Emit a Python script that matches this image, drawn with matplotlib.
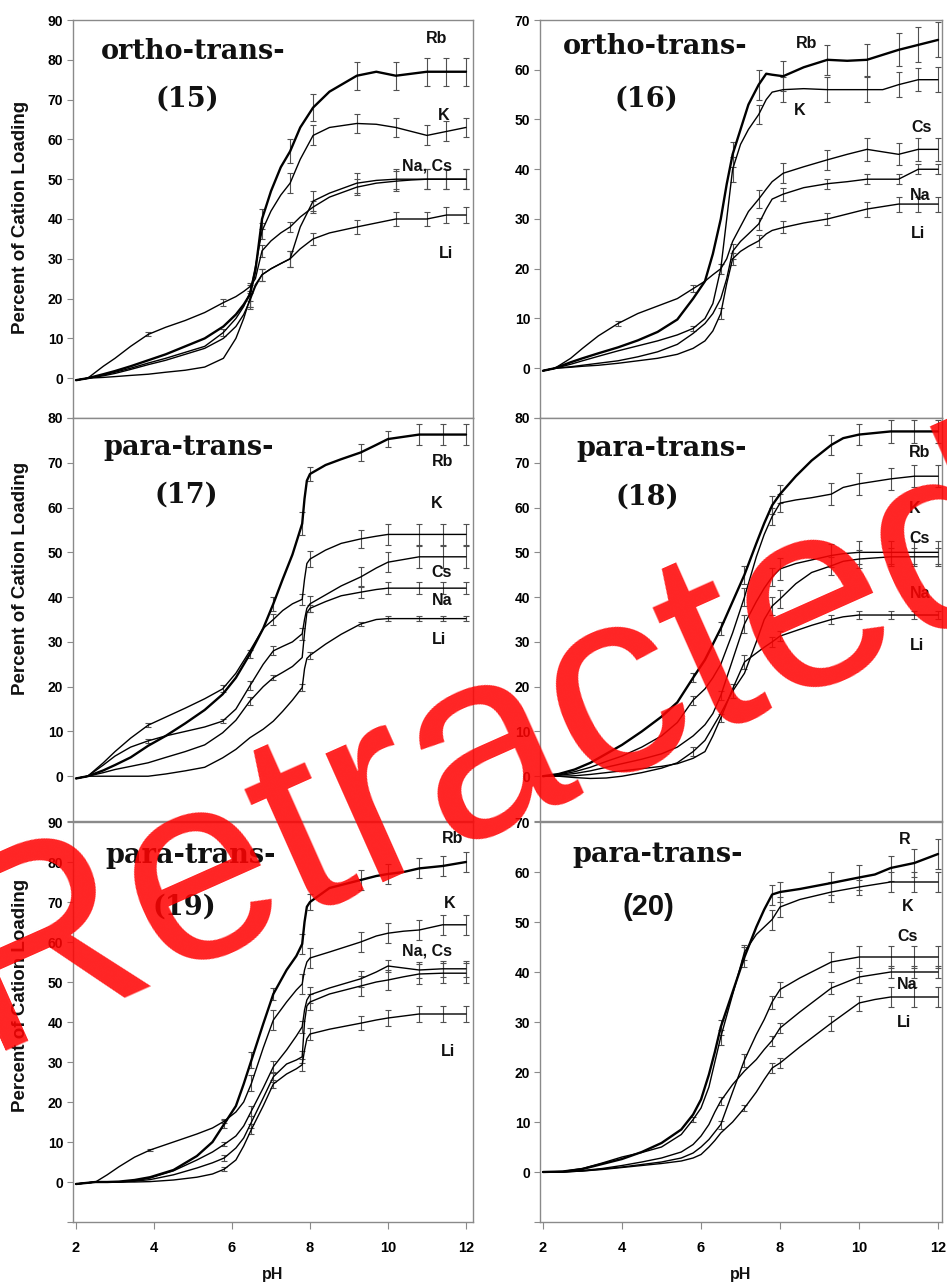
import numpy as np
import matplotlib
matplotlib.use('Agg')
import matplotlib.pyplot as plt

plt.rcParams['font.family'] = ['Liberation Sans', 'DejaVu Sans']

# ---------------- data: panel (15) ortho-trans ----------------
PH15 = [2.0, 2.3, 2.7, 3.0, 3.4, 3.85, 4.3, 4.8, 5.3, 5.78, 6.1, 6.3, 6.46, 6.6, 6.77, 7.0, 7.25, 7.49, 7.75, 8.08, 8.5, 9.2, 9.7, 10.2, 10.6, 11.0, 11.5, 12.0]
P15_RB = [-0.5, 0, 1, 1.8, 3, 4.5, 6, 8, 10, 13, 16, 18.5, 21, 27, 40, 47, 53, 57, 63, 68, 72, 76, 77, 76, 76.5, 77, 77, 77]
P15_K = [-0.5, 0, 0.8, 1.5, 2.5, 3.8, 5, 6.5, 8, 11.5, 15, 18, 21.5, 28, 37, 42, 46, 49, 55, 61, 63, 64, 63.8, 63, 62, 61, 62, 63]
P15_NA = [-0.5, 0, 3, 5, 8, 11, 12.8, 14.5, 16.5, 19, 20.5, 21.8, 23, 25, 32, 34.5, 36.5, 38, 40.5, 43, 45.5, 48, 49, 49.5, 49.8, 50, 50, 50]
P15_CS = [-0.5, 0, 0.6, 1.2, 2.2, 3.4, 4.5, 6, 7.5, 10, 13, 16, 19.5, 23, 26, 27.5, 28.8, 30, 38, 44.5, 46.5, 49, 49.7, 50, 50, 50, 50, 50]
P15_LI = [-0.5, 0, 0.2, 0.4, 0.7, 1, 1.5, 2, 2.8, 5, 10, 15, 20, 23.5, 26, 27.5, 28.8, 30, 32.5, 35, 36.5, 38, 39, 40, 40, 40, 41, 41]
EB15 = [3.85, 5.78, 6.46, 6.77, 7.49, 8.08, 9.2, 10.2, 11.0, 11.5, 12.0]
E15_RB = [0, 0, 3, 2.5, 3, 3.5, 3.5, 3.5, 3.5, 3.5, 3.5]
E15_K = [0, 0.8, 2, 2, 2.5, 2.5, 2.5, 2.5, 2.5, 2.5, 2.5]
E15_NA = [0.5, 0.8, 0, 1.5, 1.3, 1.5, 2, 2.5, 2.5, 2.5, 2.5]
E15_CS = [0, 0, 2, 1.5, 2, 2.5, 2.5, 2.5, 2.5, 2.5, 2.5]
E15_LI = [0, 0, 2, 1.5, 2, 1.5, 1.8, 1.8, 1.8, 2, 2]

# ---------------- data: panel (16) ortho-trans ----------------
PH16 = [2.0, 2.3, 2.7, 3.0, 3.4, 3.9, 4.4, 4.9, 5.4, 5.8, 6.1, 6.3, 6.5, 6.65, 6.8, 7.0, 7.2, 7.46, 7.65, 7.8, 8.08, 8.6, 9.2, 9.7, 10.2, 10.6, 11.0, 11.5, 12.0]
P16_RB = [-0.5, 0, 1.2, 2, 3, 4.2, 5.6, 7.3, 9.8, 14, 17.5, 23, 30, 37, 43, 48, 53, 57, 59.2, 59, 58.7, 60.5, 62, 61.8, 62, 63, 64, 65, 66]
P16_K = [-0.5, 0, 0.8, 1.5, 2.4, 3.5, 4.5, 5.5, 6.7, 8, 10, 13, 20, 30, 40, 45, 48, 51, 54, 55.5, 56, 56.2, 56, 56, 56, 56, 57, 58, 58]
P16_CS = [-0.5, 0, 2, 4, 6.5, 9, 11, 12.5, 14, 16, 17.5, 18.8, 20, 22, 25.5, 28.5, 31.5, 34, 36, 37.5, 39.2, 40.5, 41.9, 43, 44, 43.5, 43, 44, 44]
P16_NA = [-0.5, 0, 0.3, 0.6, 1, 1.5, 2.3, 3.3, 4.8, 7, 9, 11, 14, 18, 23.5, 25.5, 27, 29, 32, 34, 35, 36.3, 37.1, 37.5, 38, 38, 38, 40, 40]
P16_LI = [-0.5, 0, 0.2, 0.4, 0.6, 1, 1.5, 2, 2.8, 4, 5.5, 7.5, 11, 17, 22, 23.5, 24.5, 25.6, 27, 27.7, 28.3, 29.2, 30, 31, 32, 32.5, 33, 33, 33]
EB16 = [3.9, 5.8, 6.5, 6.8, 7.46, 8.08, 9.2, 10.2, 11.0, 11.5, 12.0]
E16_RB = [0, 0, 0, 2.5, 3, 3, 3, 3.2, 3.3, 3.5, 3.5]
E16_K = [0, 0.5, 0, 2.5, 2, 2.5, 2.5, 2.5, 2.5, 2.3, 2.5]
E16_CS = [0.5, 0.7, 1, 0, 1.8, 2, 2, 2.3, 2.2, 2.3, 2.3]
E16_NA = [0, 0, 0, 1.5, 1.3, 1.3, 1, 1, 1, 1, 1]
E16_LI = [0, 0, 1.2, 1.2, 1.2, 1.2, 1.2, 1.5, 1.5, 1.5, 1.5]

# ---------------- data: panel (17) para-trans ----------------
PH17 = [2.0, 2.3, 2.7, 3.0, 3.4, 3.85, 4.3, 4.8, 5.3, 5.76, 6.1, 6.46, 6.8, 7.06, 7.3, 7.55, 7.8, 7.86, 7.92, 8.0, 8.4, 8.8, 9.3, 9.7, 10.0, 10.8, 11.4, 12.0]
P17_RB = [-0.5, 0, 1.3, 2.5, 4.2, 6.8, 9, 11.8, 14.8, 18.3, 22, 27.3, 33, 38.5, 44, 49.5, 56.4, 62, 66, 67.5, 69.5, 70.8, 72.3, 74, 75.3, 76.3, 76.3, 76.3]
P17_K = [-0.5, 0, 3, 5.5, 8.5, 11.4, 13.2, 15.2, 17.3, 19.5, 23, 28, 33, 35, 37, 38.5, 39.5, 44, 47.5, 48.5, 50.5, 52, 53, 53.6, 54, 54, 54, 54]
P17_CS = [-0.5, 0, 2.5, 4.5, 6.5, 7.9, 9, 10, 11, 12.3, 15, 20.2, 25, 28, 29, 30, 31.8, 35, 37.5, 38.5, 40.5, 42.5, 44.5, 46.5, 47.8, 49, 49, 49]
P17_NA = [-0.5, 0, 0.8, 1.5, 2.2, 3, 4.2, 5.5, 7, 9.7, 12.5, 16.8, 20, 22, 23.2, 24.5, 26.5, 32, 36.5, 37.5, 39, 40.3, 41.1, 41.7, 42, 42, 42, 42]
P17_LI = [-0.5, 0, 0, 0, 0, 0, 0.5, 1.2, 2, 4.1, 6, 8.6, 10.5, 12.3, 14.5, 17, 19.8, 24, 26.3, 27, 29.5, 31.7, 34, 35, 35.2, 35.2, 35.2, 35.2]
EB17 = [3.85, 5.76, 6.46, 7.06, 7.8, 8.0, 9.3, 10.0, 10.8, 11.4, 12.0]
E17_RB = [0, 0, 1, 1.5, 2.5, 1.5, 1.8, 1.8, 2.3, 2.3, 2.3]
E17_K = [0.5, 0.8, 0, 1.3, 1.3, 1.8, 2, 2.3, 2.3, 2.3, 2.3]
E17_CS = [0.5, 0.5, 1, 1, 1.3, 1.8, 2.3, 2.3, 2.5, 2.5, 2.5]
E17_NA = [0, 0, 0.8, 0.5, 0, 0.8, 1.3, 1.3, 1.3, 1.3, 1.3]
E17_LI = [0, 0, 0, 0, 0.8, 0.8, 0.5, 0.5, 0.5, 0.5, 0.5]

# ---------------- data: panel (18) para-trans ----------------
PH18 = [2.0, 2.4, 2.8, 3.2, 3.6, 4.0, 4.5, 5.0, 5.4, 5.8, 6.1, 6.3, 6.5, 6.8, 7.1, 7.4, 7.6, 7.8, 8.0, 8.4, 8.8, 9.3, 9.6, 10.0, 10.8, 11.4, 12.0]
P18_RB = [0, 0.5, 1.5, 3, 5, 7, 10, 13.3, 16.5, 22, 26, 29.5, 33, 39, 45, 52, 56.5, 60.5, 63, 67, 70.5, 74, 75.5, 76.3, 77, 77, 77]
P18_K = [0, 0.3, 1, 2, 3.3, 4.5, 6.5, 9, 12, 17, 19.5, 22, 25, 32, 40, 49, 54, 58, 61, 61.7, 62.2, 63, 64.5, 65.3, 66.4, 67, 67]
P18_CS = [0, 0.2, 0.6, 1.2, 2, 2.8, 3.8, 5, 6.5, 9, 11.5, 14, 18, 26, 34, 39, 42, 44.5, 46.3, 47.5, 48.3, 49.3, 49.7, 50, 50, 50, 50]
P18_NA = [0, 0, -0.3, -0.5, -0.4, 0, 0.8, 1.8, 3, 5.5, 8, 11, 14, 19, 23, 30, 35, 38, 39.6, 43, 45.5, 47, 48, 48.5, 49, 49, 49]
P18_LI = [0, 0, 0.1, 0.4, 0.8, 1.2, 1.7, 2.2, 2.8, 4, 5.5, 9, 13, 19.5, 25.5, 27.5, 28.8, 30, 31.3, 32.5, 33.7, 35, 35.6, 36, 36, 36, 36]
EB18 = [5.8, 6.5, 6.8, 7.1, 7.8, 8.0, 9.3, 10.0, 10.8, 11.4, 12.0]
E18_RB = [1, 1.5, 0, 2, 2, 2, 2.3, 2.3, 2.5, 2.5, 2.5]
E18_K = [1, 0, 0, 2, 2, 2, 2.5, 2.5, 2.5, 2.5, 2.5]
E18_CS = [0, 1, 0, 2, 2, 2.5, 2.5, 2.5, 2.5, 2.5, 2.5]
E18_NA = [1, 0, 1.5, 0, 2, 2, 2, 2, 2, 2, 2]
E18_LI = [0, 1, 0, 1.5, 1.2, 1.2, 1, 1, 1, 1, 1]

# ---------------- data: panel (19) para-trans ----------------
PH19 = [2.0, 2.5, 2.8, 3.1, 3.5, 3.9, 4.5, 5.1, 5.5, 5.8, 6.1, 6.3, 6.5, 6.8, 7.06, 7.4, 7.65, 7.8, 7.86, 7.92, 8.0, 8.5, 9.3, 9.7, 10.0, 10.4, 10.8, 11.4, 12.0]
P19_RB = [-0.5, 0, 0, 0.1, 0.5, 1.2, 3, 6.5, 10, 14.5, 19, 24.5, 30.5, 39.5, 47, 53, 56.5, 59.5, 65, 68.8, 70, 73.5, 75.5, 76.5, 77, 77.5, 78.4, 79, 80]
P19_K = [-0.5, 0, 1.8, 3.8, 6.2, 8, 10, 12, 13.5, 15.2, 17.5, 20, 24.7, 33.5, 40.5, 45, 48, 49.5, 53, 55, 56, 57.5, 60, 61.5, 62.2, 62.7, 63, 64.3, 64.3]
P19_NA = [-0.5, 0, 0, 0, 0.3, 1, 2.8, 5.5, 7.5, 9.4, 11.5, 14, 17.8, 23.5, 28.8, 33, 36.5, 38.8, 43, 45.5, 46.8, 48.5, 50.8, 52.5, 54, 53.5, 53, 53.3, 53.3]
P19_CS = [-0.5, 0, 0, 0, 0.2, 0.6, 1.8, 3.5, 4.8, 6, 8.5, 11, 15, 21, 26.3, 29.5, 30.5, 31.3, 40, 44, 45, 47, 49, 50, 50.5, 51.3, 52, 52.2, 52.2]
P19_LI = [-0.5, 0, 0, 0, 0, 0.1, 0.5, 1.2, 2, 3.2, 5.5, 9, 13.2, 19, 24.5, 27, 28.3, 29.3, 33, 35.8, 37, 38.2, 39.7, 40.5, 41, 41.5, 42, 42, 42]
EB19 = [3.9, 5.8, 6.5, 7.06, 7.8, 8.0, 9.3, 10.0, 10.8, 11.4, 12.0]
E19_RB = [0, 1, 2, 1.5, 2.5, 2, 2.5, 2.5, 2.5, 2.5, 2.5]
E19_K = [0.3, 0.5, 2, 2.5, 2.5, 2.5, 2.5, 2.5, 2.5, 2.5, 2.5]
E19_NA = [0, 0.5, 1.3, 1.5, 1.5, 2, 2, 1.5, 2, 2, 2]
E19_CS = [0, 0.8, 1.5, 1.3, 1.5, 2, 2.5, 2.5, 2.5, 2.5, 2.5]
E19_LI = [0, 0.5, 1.3, 1, 1.5, 1.5, 1.8, 2, 2, 2, 2]

# ---------------- data: panel (20) para-trans ----------------
PH20 = [2.0, 2.5, 3.0, 3.5, 4.0, 4.5, 5.0, 5.5, 5.8, 6.0, 6.2, 6.35, 6.5, 6.8, 7.1, 7.4, 7.6, 7.8, 8.0, 8.5, 9.3, 10.0, 10.4, 10.8, 11.4, 12.0]
P20_RB = [0, 0.1, 0.6, 1.6, 2.6, 4, 5.8, 8.5, 11.5, 14.5, 19.5, 24, 29, 36, 43, 49, 52.5, 55.5, 56, 56.6, 57.8, 58.9, 59.5, 60.8, 61.8, 63.6]
P20_K = [0, 0.1, 0.7, 1.8, 3, 3.9, 5, 7.5, 10.5, 12.8, 17, 22, 27, 35.5, 44, 47.5, 49, 50.5, 53, 54.5, 56, 57, 57.5, 58, 58, 58]
P20_CS = [0, 0, 0.2, 0.6, 1, 1.5, 2, 2.8, 3.8, 5, 6.5, 8, 9.5, 16, 22.4, 27.5, 30.5, 34, 36.5, 38.8, 42, 43, 43, 43, 43, 43]
P20_NA = [0, 0, 0.3, 0.7, 1.3, 2, 2.8, 4, 5.5, 7.2, 9.5, 12, 14.2, 17.5, 20.2, 22.5, 24.5, 26.3, 28.8, 32, 36.8, 39, 39.5, 40, 40, 40]
P20_LI = [0, 0, 0.2, 0.5, 0.9, 1.3, 1.7, 2.2, 2.8, 3.5, 5, 6.3, 7.8, 10, 12.8, 16, 18.5, 20.8, 21.8, 25, 29.8, 33.8, 34.5, 35, 35, 35]
EB20 = [5.8, 6.5, 7.1, 7.8, 8.0, 9.3, 10.0, 10.8, 11.4, 12.0]
E20_RB = [0, 1.5, 2, 2, 2, 2.3, 2.5, 2.5, 2.8, 3]
E20_K = [0.5, 1.5, 1.5, 2, 2, 2, 1.5, 2, 2, 2]
E20_CS = [0, 0.8, 1.3, 1.3, 1.5, 2, 2.2, 2.2, 2.2, 2.2]
E20_NA = [0, 0.8, 0, 1, 1, 1.2, 1.2, 1.2, 1.2, 1.2]
E20_LI = [0, 0, 0.6, 1, 1, 1.5, 1.5, 2, 2, 2]

TITLES = ['ortho-trans-', 'ortho-trans-', 'para-trans-', 'para-trans-', 'para-trans-', 'para-trans-']
NUMBERS = ['(15)', '(16)', '(17)', '(18)', '(19)', '(20)']
YLABEL = 'Percent of Cation Loading'
XLABEL = 'pH'
XTICKS = [2, 4, 6, 8, 10, 12]
WATERMARK = 'Retracted'

# ---------------- drawing ----------------
W, H = 947, 1285
fig = plt.figure(figsize=(W / 100, H / 100), dpi=100)
GREY = '#8a8a8a'


def add_ax(l, t, r, b):
    return fig.add_axes([l / W, 1 - b / H, (r - l) / W, (b - t) / H])


def ftext(x, y, s, **kw):
    return fig.text(x / W, 1 - y / H, s, **kw)


def setup(ax, xlim, ytop, show_x):
    ax.set_xlim(*xlim)
    ax.set_ylim(-10, ytop)
    for s in ax.spines.values():
        s.set_color(GREY)
        s.set_linewidth(1.0)
    vals = list(range(-10, ytop + 1, 10))
    ax.set_yticks(vals)
    ax.set_yticklabels(['' if v < 0 else str(v) for v in vals])
    ax.tick_params(axis='y', direction='out', length=4, width=0.8, color=GREY,
                   pad=3, labelsize=10)
    for lab in ax.get_yticklabels():
        lab.set_fontweight('bold')
    if show_x:
        ax.set_xticks(XTICKS)
        ax.set_xticklabels([str(v) for v in XTICKS])
        ax.tick_params(axis='x', direction='out', length=5, width=0.8, color=GREY,
                       pad=9, labelsize=10.5)
        for lab in ax.get_xticklabels():
            lab.set_fontweight('bold')
    else:
        ax.set_xticks([])


def draw(ax, ph, eb, curves):
    ph = np.asarray(ph, float)
    for y, e, lw in curves:
        y = np.asarray(y, float)
        ax.plot(ph, y, color='black', lw=lw, solid_joinstyle='round',
                solid_capstyle='round', zorder=3)
        idx = [int(np.argmin(np.abs(ph - p))) for p in eb]
        e = np.asarray(e, float)
        m = e > 0
        xs = ph[idx][m]
        ys = y[idx][m]
        ax.errorbar(xs, ys, yerr=e[m], fmt='none', ecolor='#505050',
                    elinewidth=0.8, capsize=2.5, capthick=0.8, zorder=2)


def labels(ax, items):
    for s, x, y in items:
        ax.text(x, y, s, ha='center', va='center', fontsize=11.5,
                fontweight='bold', color='#111111')


THICK, THIN = 1.7, 1.0
LX = (1.923, 12.18)
RX = (1.924, 12.10)

# row 1
ax1 = add_ax(73, 20, 473, 418)
setup(ax1, LX, 90, False)
draw(ax1, PH15, EB15, [(P15_LI, E15_LI, THIN), (P15_CS, E15_CS, THIN),
                       (P15_NA, E15_NA, THIN), (P15_K, E15_K, THIN),
                       (P15_RB, E15_RB, THICK)])
labels(ax1, [('Rb', 11.25, 85.3), ('K', 11.42, 65.9), ('Na, Cs', 11.0, 53.3),
             ('Li', 11.49, 31.4)])

ax2 = add_ax(540, 20, 942, 418)
setup(ax2, RX, 70, False)
draw(ax2, PH16, EB16, [(P16_LI, E16_LI, THIN), (P16_NA, E16_NA, THIN),
                       (P16_CS, E16_CS, THIN), (P16_K, E16_K, THIN),
                       (P16_RB, E16_RB, THICK)])
labels(ax2, [('Rb', 8.68, 65.3), ('K', 8.51, 51.9), ('Cs', 11.59, 48.4),
             ('Na', 11.54, 34.8), ('Li', 11.5, 27.1)])

# row 2
ax3 = add_ax(73, 418, 473, 821)
setup(ax3, LX, 80, False)
draw(ax3, PH17, EB17, [(P17_LI, E17_LI, THIN), (P17_NA, E17_NA, THIN),
                       (P17_CS, E17_CS, THIN), (P17_K, E17_K, THIN),
                       (P17_RB, E17_RB, THICK)])
labels(ax3, [('Rb', 11.39, 70.2), ('K', 11.25, 60.8), ('Cs', 11.38, 45.6),
             ('Na', 11.38, 39.3), ('Li', 11.31, 30.5)])

ax4 = add_ax(540, 418, 942, 821)
setup(ax4, RX, 80, False)
draw(ax4, PH18, EB18, [(P18_LI, E18_LI, THIN), (P18_NA, E18_NA, THIN),
                       (P18_CS, E18_CS, THIN), (P18_K, E18_K, THIN),
                       (P18_RB, E18_RB, THICK)])
labels(ax4, [('Rb', 11.54, 72.2), ('K', 11.42, 59.8), ('Cs', 11.54, 53.1),
             ('Na', 11.54, 40.8), ('Li', 11.46, 29.3)])

# row 3
ax5 = add_ax(73, 822, 473, 1222)
setup(ax5, LX, 90, True)
draw(ax5, PH19, EB19, [(P19_LI, E19_LI, THIN), (P19_CS, E19_CS, THIN),
                       (P19_NA, E19_NA, THIN), (P19_K, E19_K, THIN),
                       (P19_RB, E19_RB, THICK)])
labels(ax5, [('Rb', 11.65, 85.9), ('K', 11.59, 69.7), ('Na, Cs', 11.0, 57.7),
             ('Li', 11.55, 32.6)])

ax6 = add_ax(540, 822, 942, 1222)
setup(ax6, RX, 70, True)
draw(ax6, PH20, EB20, [(P20_LI, E20_LI, THIN), (P20_NA, E20_NA, THIN),
                       (P20_CS, E20_CS, THIN), (P20_K, E20_K, THIN),
                       (P20_RB, E20_RB, THICK)])
labels(ax6, [('R', 11.16, 66.6), ('K', 11.22, 53.1), ('Cs', 11.23, 47.1),
             ('Na', 11.23, 37.5), ('Li', 11.13, 29.9)])

# panel titles
serif = dict(family='DejaVu Serif', fontweight='bold', fontsize=19.5,
             ha='center', va='baseline', color='#111111')
title_pos = [(193, 59), (655, 54), (189, 455), (662, 456), (191, 863), (658, 862)]
num_pos = [(187, 107), (646, 107), (186, 503), (647, 505), (184, 915), (648, 915)]
for i, (t, n) in enumerate(zip(TITLES, NUMBERS)):
    ftext(title_pos[i][0], title_pos[i][1], t, **serif)
    if i == 5:
        ftext(num_pos[i][0], num_pos[i][1], n, family='Liberation Sans',
              fontweight='bold', fontsize=21, ha='center', va='baseline',
              color='#111111')
    else:
        ftext(num_pos[i][0], num_pos[i][1], n, **serif)

# axis titles
for yc in (217, 578, 995):
    ftext(21, yc, YLABEL, rotation=90, ha='center', va='center',
          fontsize=13.5, fontweight='bold', color='#111111')
for xc in (273, 741):
    ftext(xc, 1275, XLABEL, ha='center', va='center', fontsize=11.5,
          fontweight='bold', color='#111111')

# watermark
ftext(514, 814, WATERMARK, rotation=24, rotation_mode='anchor', ha='center',
      va='baseline', fontsize=193, family='Liberation Sans',
      color=(1.0, 0.01, 0.01), alpha=0.87, zorder=10)

fig.savefig('out.png', dpi=100)
